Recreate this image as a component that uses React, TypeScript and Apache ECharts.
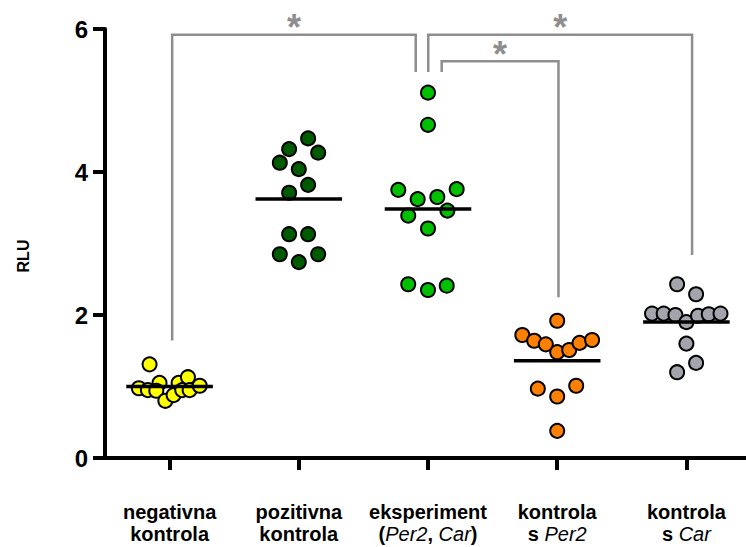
import React, { useEffect, useRef } from "react";
import * as echarts from "echarts";

// Category labels (rich-text markup for italic gene names)
const categoryLabels = [
  "negativna\nkontrola",
  "pozitivna\nkontrola",
  "eksperiment\n({i|Per2}, {i|Car})",
  "kontrola\ns {i|Per2}",
  "kontrola\ns {i|Car}",
];

const yTicks = [0, 2, 4, 6];
const yTitle = "RLU";

// RLU values per group
const negValues = [1.31, 0.975, 0.95, 1.05, 0.94, 0.8, 0.88, 1.05, 1.13, 0.95, 0.95, 1.01];
const posValues = [4.47, 4.32, 4.27, 4.13, 4.04, 3.82, 3.71, 3.13, 3.13, 2.85, 2.74, 2.85];
const expValues = [5.11, 4.66, 3.75, 3.76, 3.62, 3.65, 3.39, 3.46, 3.21, 2.43, 2.35, 2.41];
const per2Values = [1.92, 1.72, 1.64, 1.59, 1.48, 1.51, 1.61, 1.65, 0.97, 1.01, 0.86, 0.38];
const carValues = [2.43, 2.29, 2.02, 2.02, 2.0, 1.9, 1.99, 2.01, 2.02, 1.6, 1.33, 1.2];

// horizontal jitter of each dot (category units), as placed in the picture
const negJitter = [-0.155, -0.238, -0.168, -0.078, -0.103, -0.033, 0.031, 0.07, 0.142, 0.098, 0.155, 0.233];
const posJitter = [0.072, -0.075, 0.15, -0.147, 0, 0.072, -0.075, -0.075, 0.072, -0.147, 0, 0.15];
const expJitter = [0, 0, -0.23, 0.222, -0.08, 0.072, -0.153, 0.15, 0, -0.153, 0, 0.145];
const per2Jitter = [0, -0.27, -0.178, -0.088, 0, 0.093, 0.173, 0.27, -0.15, 0.147, 0, 0];
const carJitter = [-0.072, 0.075, -0.266, -0.176, -0.085, 0, 0.09, 0.173, 0.264, 0, 0.075, -0.072];

const groupValues = [negValues, posValues, expValues, per2Values, carValues];
const groupJitter = [negJitter, posJitter, expJitter, per2Jitter, carJitter];
const groupColors = ["#ffff00", "#005a00", "#00c000", "#ff8000", "#a4a4ac"];

// significance brackets: [xStart, yStart, xEnd, yEnd, yTop]
const brackets = [
  [0.02, 1.645, 1.905, 5.4, 5.92],
  [2.002, 5.4, 4.044, 2.84, 5.92],
  [2.106, 5.4, 3.01, 2.25, 5.55],
];
const bracketMarks = ["*", "*", "*"];

const FONT = "'Liberation Sans', Arial, Helvetica, sans-serif";

export default function App() {
  const ref = useRef<HTMLDivElement>(null);

  useEffect(() => {
    if (!ref.current) return;
    const chart = echarts.init(ref.current, undefined, { renderer: "svg" });

    const scatterSeries = groupValues.map((vals, gi) => ({
      type: "scatter",
      name: categoryLabels[gi],
      data: vals.map((v, k) => [gi + groupJitter[gi][k], v]),
      symbol: "circle",
      symbolSize: 14,
      itemStyle: { color: groupColors[gi], borderColor: "#000", borderWidth: 2, opacity: 1 },
      z: 3,
      silent: true,
    }));

    const means = groupValues.map((vals, gi) => [gi, vals.reduce((a, b) => a + b, 0) / vals.length]);

    const meanSeries = {
      type: "custom",
      data: means,
      z: 5,
      silent: true,
      renderItem: (params: any, api: any) => {
        const x = api.value(0);
        const y = api.value(1);
        const p1 = api.coord([x - 0.335, y]);
        const p2 = api.coord([x + 0.335, y]);
        return {
          type: "line",
          shape: { x1: p1[0], y1: p1[1], x2: p2[0], y2: p2[1] },
          style: { stroke: "#000", lineWidth: 3.5 },
        };
      },
    };

    const bracketSeries = {
      type: "custom",
      data: brackets,
      z: 2,
      silent: true,
      clip: false,
      renderItem: (params: any, api: any) => {
        const a = api.coord([api.value(0), api.value(1)]);
        const b = api.coord([api.value(0), api.value(4)]);
        const c = api.coord([api.value(2), api.value(4)]);
        const d = api.coord([api.value(2), api.value(3)]);
        return {
          type: "group",
          children: [
            {
              type: "polyline",
              shape: { points: [a, b, c, d] },
              style: { stroke: "#8e8e8e", lineWidth: 2.5, fill: "none" },
            },
            {
              type: "text",
              x: (b[0] + c[0]) / 2,
              y: b[1] - 7,
              style: {
                text: bracketMarks[params.dataIndex],
                fill: "#8e8e8e",
                font: `bold 36px ${FONT}`,
                align: "center",
                verticalAlign: "middle",
              },
            },
          ],
        };
      },
    };

    chart.setOption({
      animation: false,
      backgroundColor: "#ffffff",
      grid: {
        left: 105,
        right: -5,
        top: 29,
        bottom: 89,
        containLabel: false,
        outerBoundsMode: "none",
      },
      graphic: [
        {
          type: "text",
          x: 23,
          y: 256,
          rotation: Math.PI / 2,
          style: {
            text: yTitle,
            fill: "#000",
            font: `bold 16px ${FONT}`,
            align: "center",
            verticalAlign: "middle",
          },
        },
      ],
      xAxis: {
        type: "value",
        min: -0.5,
        max: 4.5,
        splitLine: { show: false },
        axisLine: { show: true, onZero: false, lineStyle: { color: "#000", width: 4 } },
        axisTick: {
          show: true,
          customValues: [0, 1, 2, 3, 4],
          length: 12,
          inside: false,
          lineStyle: { color: "#000", width: 4 },
        },
        axisLabel: {
          customValues: [0, 1, 2, 3, 4],
          formatter: (v: number) => categoryLabels[Math.round(v)] ?? "",
          margin: 43,
          color: "#000",
          fontFamily: FONT,
          fontWeight: "bold",
          fontSize: 20,
          lineHeight: 22,
          rich: {
            i: {
              fontFamily: FONT,
              fontStyle: "italic",
              fontWeight: "normal",
              fontSize: 20,
              lineHeight: 22,
              color: "#000",
            },
          },
        },
      },
      yAxis: {
        type: "value",
        min: 0,
        max: 6,
        interval: 2,
        splitLine: { show: false },
        axisLine: { show: true, onZero: false, lineStyle: { color: "#000", width: 4 } },
        axisTick: { show: true, length: 12, lineStyle: { color: "#000", width: 4 } },
        axisLabel: {
          formatter: (v: number) => (yTicks.includes(v) ? String(v) : ""),
          margin: 17,
          color: "#000",
          fontFamily: FONT,
          fontWeight: "bold",
          fontSize: 24,
        },
      },
      series: [...scatterSeries, meanSeries, bracketSeries],
    });

    return () => chart.dispose();
  }, []);

  return (
    <div
      ref={ref}
      style={{ position: "fixed", left: 0, top: 0, width: 746, height: 547, background: "#fff" }}
    />
  );
}
